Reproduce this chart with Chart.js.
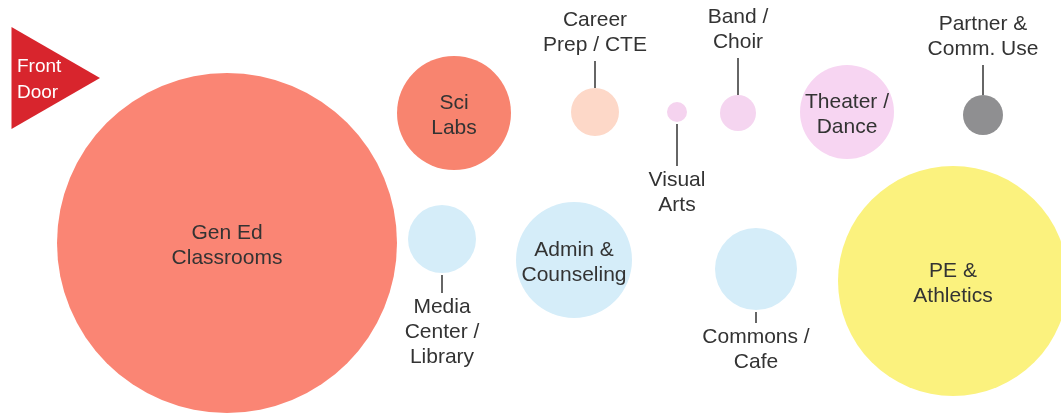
<!DOCTYPE html>
<html>
<head>
<meta charset="utf-8">
<script src="https://cdn.jsdelivr.net/npm/chart.js@4"></script>
<style>
  html, body { margin: 0; padding: 0; background: #fff; }
  #wrap { width: 1061px; height: 413px; }
</style>
</head>
<body>
<div id="wrap"><canvas id="spaces" width="1061" height="413"></canvas></div>
<script>
// program areas, laid out on a 1061 x 413 plan
const areaNames = [
  ["Gen Ed", "Classrooms"],
  ["Sci", "Labs"],
  ["Career", "Prep / CTE"],
  ["Visual", "Arts"],
  ["Band /", "Choir"],
  ["Theater /", "Dance"],
  ["Partner &", "Comm. Use"],
  ["Media", "Center /", "Library"],
  ["Admin &", "Counseling"],
  ["Commons /", "Cafe"],
  ["PE &", "Athletics"]
];
const areaX = [227, 454, 595, 677, 738, 847, 983, 442, 574, 756, 953];
const areaY = [243, 113, 112, 112, 113, 112, 115, 239, 260, 269, 281];
const areaSize = [170, 57, 24, 10, 18, 47, 20, 34, 58, 41, 115];
const areaColors = ["#fa8574", "#f8846f", "#fdd8c8", "#f5d3ef", "#f5d5f0", "#f7d5f2",
                    "#8f8f91", "#d5edf9", "#d5edf9", "#d5edf9", "#fbf27e"];
// where the name goes: inside, above or below with a leader line
const labelSide = ["in", "in", "up", "down", "up", "in", "up", "down", "in", "down", "in"];
const leaderLen = [0, 0, 27, 42, 37, 0, 30, 18, 0, 11, 0];

const doorName = ["Front", "Door"];
const doorX = [41];
const doorY = [78];
const doorSize = [59];

const pts = areaX.map((x, i) => ({ x: x, y: areaY[i], r: areaSize[i] }));

const labelPlugin = {
  id: "areaLabels",
  afterDatasetsDraw(chart) {
    const ctx = chart.ctx;
    const meta = chart.getDatasetMeta(0);
    const lh = 25;
    ctx.save();
    ctx.font = "21px 'Liberation Sans', Arial, sans-serif";
    ctx.textAlign = "center";
    ctx.textBaseline = "middle";
    ctx.fillStyle = "#333";
    ctx.strokeStyle = "#333";
    ctx.lineWidth = 1.5;
    meta.data.forEach((el, i) => {
      const lines = areaNames[i];
      const r = areaSize[i];
      let y0;
      if (labelSide[i] == "in") {
        y0 = el.y + 3 - (lines.length - 1) * lh / 2;
      } else if (labelSide[i] == "up") {
        const top = el.y - r;
        const end = top - leaderLen[i];
        ctx.beginPath();
        ctx.moveTo(el.x, top);
        ctx.lineTo(el.x, end);
        ctx.stroke();
        y0 = end - 16 - (lines.length - 1) * lh;
      } else {
        const bot = el.y + r + 2;
        const end = bot + leaderLen[i];
        ctx.beginPath();
        ctx.moveTo(el.x, bot);
        ctx.lineTo(el.x, end);
        ctx.stroke();
        y0 = end + 14;
      }
      lines.forEach((t, k) => ctx.fillText(t, el.x, y0 + k * lh));
    });
    // front door text
    const door = chart.getDatasetMeta(1).data[0];
    ctx.font = "19px 'Liberation Sans', Arial, sans-serif";
    ctx.fillStyle = "#fff";
    ctx.textAlign = "left";
    ctx.fillText(doorName[0], door.x - 24, door.y - 11);
    ctx.fillText(doorName[1], door.x - 24, door.y + 15);
    ctx.restore();
  }
};

new Chart(document.getElementById("spaces"), {
  type: "bubble",
  data: {
    datasets: [{
      data: pts,
      backgroundColor: areaColors,
      borderWidth: 0,
      clip: false
    }, {
      data: [{ x: doorX[0], y: doorY[0], r: doorSize[0] }],
      backgroundColor: "#d8252d",
      borderWidth: 0,
      pointStyle: "triangle",
      rotation: 90,
      clip: false
    }]
  },
  options: {
    responsive: false,
    animation: false,
    events: [],
    layout: { padding: 0, autoPadding: false },
    plugins: { legend: { display: false }, tooltip: { enabled: false } },
    scales: {
      x: { display: false, min: 0, max: 1061 },
      y: { display: false, min: 0, max: 413, reverse: true }
    }
  },
  plugins: [labelPlugin]
});
</script>
</body>
</html>
